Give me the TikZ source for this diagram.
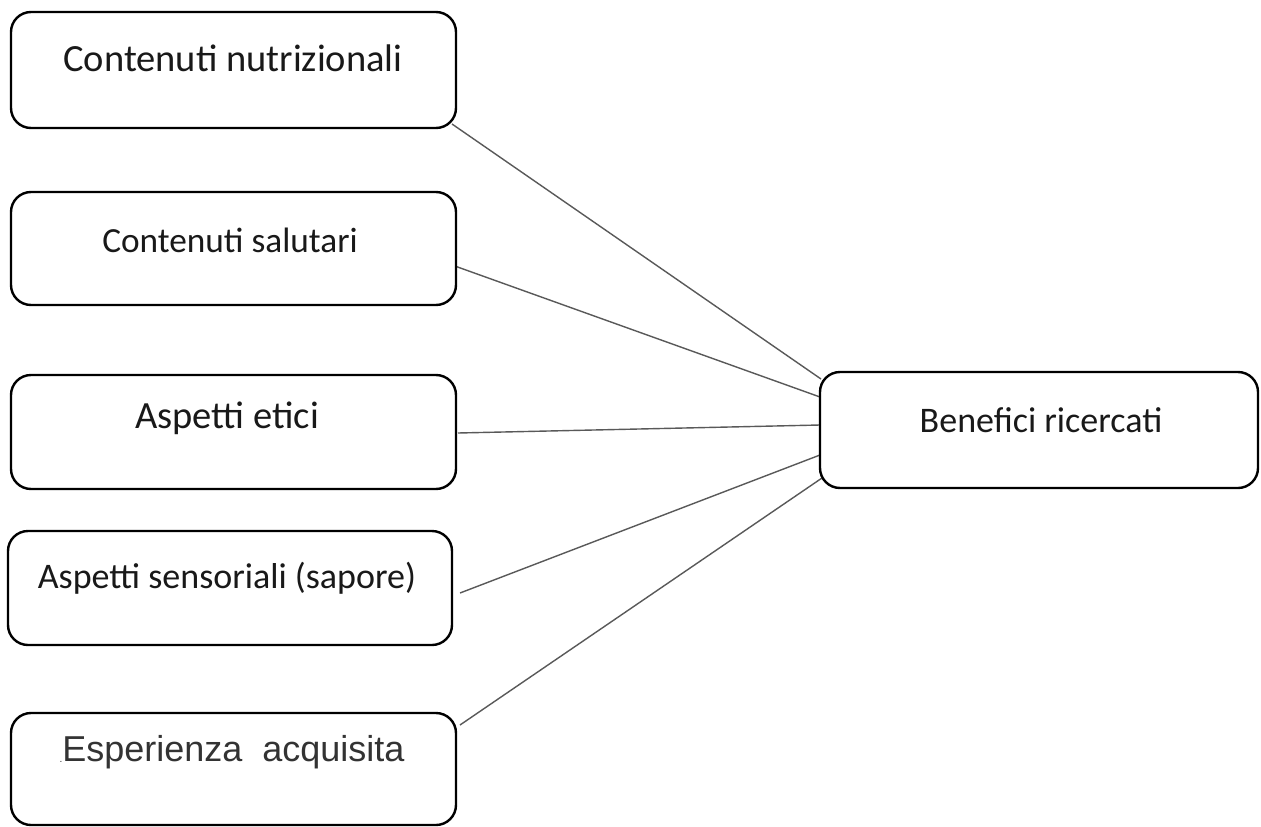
\documentclass[tikz,border=0pt]{standalone}
\usepackage{fontspec}
\setmainfont{Carlito}
\newfontfamily\arialf{Liberation Sans}
\begin{document}
\begin{tikzpicture}[x=1pt,y=-1pt,
  box/.style={draw=black,line width=2.4pt,rounded corners=20pt,fill=white},
  txt/.style={font=\fontsize{38.5}{44}\selectfont,text=black!90,inner sep=0pt},
  conn/.style={draw=black!65,line width=1.4pt}]
\useasboundingbox[fill=white] (0,0) rectangle (1261,827);
% connectors first (behind boxes)
\coordinate (c1) at (452,124);
\coordinate (c2) at (452,265);
\coordinate (c3) at (458,433);
\coordinate (c4) at (460,593);
\coordinate (c5) at (460,725);
\coordinate (b1) at (821,379);
\coordinate (b2) at (820,397);
\coordinate (b3) at (820,425);
\coordinate (b4) at (820,455);
\coordinate (b5) at (822,478);
\draw[conn] (c1) -- (b1);
\draw[conn] (c2) -- (b2);
\draw[conn] (c3) -- (b3);
\draw[conn] (c4) -- (b4);
\draw[conn] (c5) -- (b5);
% boxes
\draw[box] (11,12) rectangle (456,128);
\draw[box] (11,192) rectangle (456,305);
\draw[box] (11,375) rectangle (456,489);
\draw[box] (8,531) rectangle (452,645);
\draw[box] (11,713) rectangle (456,825);
\draw[box] (820,372) rectangle (1258,488);
% texts
\node[txt] (t1) at (233,58) {Contenuti nutrizionali};
\node[txt,font=\fontsize{35.3}{40}\selectfont] (t2) at (230,240) {Contenuti salutari};
\node[txt] (t3) at (227,418) {Aspetti etici};
\node[txt,font=\fontsize{36}{40}\selectfont] (t4) at (227,578) {Aspetti sensoriali (sapore)};
\node[txt,font=\arialf\fontsize{36}{40}\selectfont,text=black!80] (t5) at (232,752) {\raisebox{-1pt}{\fontsize{10}{10}\selectfont.}Esperienza\ \ acquisita};
\node[txt,font=\fontsize{36}{40}\selectfont] (t6) at (1041,420) {Benefici ricercati};
\end{tikzpicture}
\end{document}
